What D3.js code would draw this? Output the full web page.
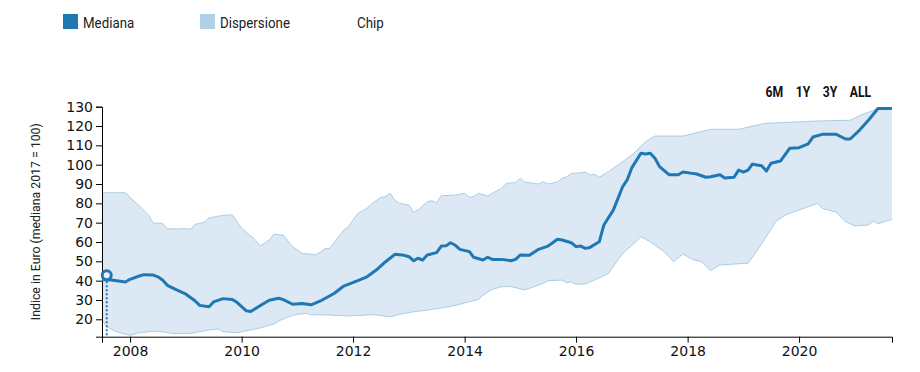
<!DOCTYPE html>
<html>
<head>
<meta charset="utf-8">
<script src="https://cdn.jsdelivr.net/npm/d3@7"></script>
<style>
	body { margin: 0; background: #fff; }
</style>
</head>
<body>
<svg id="chart" width="920" height="372"></svg>
<script>

var medianSeries = [
	["2007-07", 40.5], ["2007-09", 40.3], ["2007-12", 39.3], ["2008-01", 40.7], ["2008-03", 42.4], ["2008-04", 43.1],
	["2008-06", 42.9], ["2008-07", 42], ["2008-08", 40.3], ["2008-09", 37.6], ["2008-11", 35.2], ["2009-01", 33],
	["2009-03", 29.6], ["2009-04", 27.2], ["2009-06", 26.5], ["2009-07", 29], ["2009-09", 30.7], ["2009-11", 30.3],
	["2009-12", 28.8], ["2010-02", 24.4], ["2010-03", 24], ["2010-05", 27], ["2010-07", 29.9], ["2010-09", 30.9],
	["2010-10", 30.2], ["2010-12", 27.8], ["2011-02", 28.2], ["2011-04", 27.5], ["2011-06", 29.5], ["2011-09", 33.5],
	["2011-11", 37.2], ["2012-02", 40], ["2012-04", 42], ["2012-06", 45.5], ["2012-08", 49.8], ["2012-10", 53.6],
	["2012-12", 53.1], ["2013-01", 52.4], ["2013-02", 50.3], ["2013-03", 51.6], ["2013-04", 50.7], ["2013-05", 53.3],
	["2013-07", 54.5], ["2013-08", 57.9], ["2013-09", 58.1], ["2013-10", 59.6], ["2013-11", 58.3], ["2013-12", 56.2],
	["2014-02", 55], ["2014-03", 52.1], ["2014-05", 50.7], ["2014-06", 52.1], ["2014-07", 51], ["2014-09", 51],
	["2014-11", 50.3], ["2014-12", 51], ["2015-01", 53.3], ["2015-03", 53.1], ["2015-05", 56.2], ["2015-07", 57.9],
	["2015-08", 59.6], ["2015-09", 61.4], ["2015-10", 61], ["2015-12", 59.6], ["2016-01", 57.6], ["2016-02", 57.9],
	["2016-03", 56.7], ["2016-04", 57.2], ["2016-06", 60.1], ["2016-07", 68.8], ["2016-09", 76.5], ["2016-11", 88.6],
	["2016-12", 92.1], ["2017-01", 98.5], ["2017-03", 105.9], ["2017-04", 105.5], ["2017-05", 105.9], ["2017-06", 103.3],
	["2017-07", 99], ["2017-09", 94.8], ["2017-11", 94.8], ["2017-12", 96.2], ["2018-02", 95.5], ["2018-03", 95.2],
	["2018-05", 93.5], ["2018-06", 93.8], ["2018-08", 94.8], ["2018-09", 93.1], ["2018-11", 93.5], ["2018-12", 97.2],
	["2019-01", 96.2], ["2019-02", 97.2], ["2019-03", 100.3], ["2019-04", 99.8], ["2019-05", 99.5], ["2019-06", 96.7],
	["2019-07", 100.7], ["2019-09", 101.9], ["2019-11", 108.5], ["2020-01", 108.8], ["2020-03", 110.8], ["2020-04", 114.3],
	["2020-06", 115.7], ["2020-09", 115.7], ["2020-11", 113.3], ["2020-12", 113.3], ["2021-02", 117.9], ["2021-04", 123.1],
	["2021-06", 129.1], ["2021-09", 129.1]
];

var upperSeries = [
	["2007-07", 85.5], ["2007-12", 85.5], ["2008-05", 74], ["2008-06", 69.7], ["2008-08", 69.7], ["2008-09", 66.9],
	["2008-11", 66.7], ["2009-01", 66.9], ["2009-02", 66.6], ["2009-03", 69.1], ["2009-05", 70.2], ["2009-06", 72.4],
	["2009-08", 73.4], ["2009-10", 74], ["2009-11", 74], ["2009-12", 70.5], ["2010-01", 67.1], ["2010-04", 61],
	["2010-05", 57.9], ["2010-07", 61], ["2010-08", 64.1], ["2010-10", 63.5], ["2010-12", 57.6], ["2011-02", 54.1],
	["2011-05", 53.4], ["2011-06", 54.8], ["2011-07", 56.6], ["2011-08", 56.6], ["2011-11", 66.2], ["2011-12", 67.9],
	["2012-02", 74.8], ["2012-04", 77.4], ["2012-05", 79.7], ["2012-07", 83.1], ["2012-08", 83.5], ["2012-09", 85.2],
	["2012-10", 81.4], ["2012-11", 80], ["2013-01", 79.1], ["2013-02", 75.4], ["2013-03", 76.5], ["2013-05", 80.8],
	["2013-06", 81.4], ["2013-07", 80.3], ["2013-08", 83.9], ["2013-11", 84.3], ["2014-01", 85.2], ["2014-02", 83.1],
	["2014-03", 83.5], ["2014-04", 85.2], ["2014-06", 83.8], ["2014-07", 85.2], ["2014-09", 87.8], ["2014-10", 90.4],
	["2014-12", 90.7], ["2015-01", 92.9], ["2015-02", 90.9], ["2015-03", 90.7], ["2015-05", 90], ["2015-06", 91.2],
	["2015-07", 90], ["2015-09", 91], ["2015-10", 92.9], ["2015-11", 93.8], ["2015-12", 95.5], ["2016-02", 95.8],
	["2016-03", 96.2], ["2016-04", 94.6], ["2016-05", 95], ["2016-06", 93.5], ["2016-08", 96.4], ["2016-10", 99.8],
	["2017-01", 105], ["2017-04", 111.9], ["2017-06", 114.8], ["2017-12", 114.8], ["2018-06", 118.3], ["2018-12", 118.3],
	["2019-05", 121], ["2019-06", 121.4], ["2020-05", 122.6], ["2020-12", 123], ["2021-02", 125.4], ["2021-06", 129.1],
	["2021-09", 129.1]
];

var lowerSeries = [
	["2007-07", 19.6], ["2007-08", 16.2], ["2007-10", 13.6], ["2008-01", 11.7], ["2008-03", 13.1], ["2008-06", 13.8],
	["2008-08", 13.6], ["2008-10", 12.7], ["2009-02", 12.7], ["2009-04", 13.6], ["2009-06", 14.5], ["2009-08", 15],
	["2009-09", 13.6], ["2009-12", 13.1], ["2010-03", 14.5], ["2010-05", 15.5], ["2010-08", 17.6], ["2010-09", 19.1],
	["2010-11", 21.3], ["2011-01", 22.6], ["2011-03", 23.1], ["2011-04", 22.4], ["2011-08", 22.2], ["2011-12", 21.7],
	["2012-05", 22.4], ["2012-06", 22.2], ["2012-09", 21.3], ["2012-11", 22.6], ["2013-02", 23.9], ["2013-05", 24.8],
	["2013-08", 25.8], ["2013-11", 27.2], ["2014-02", 29.1], ["2014-04", 30.3], ["2014-05", 32.4], ["2014-07", 35.5],
	["2014-09", 36.9], ["2014-11", 36.9], ["2015-02", 35.2], ["2015-04", 36.9], ["2015-06", 38.6], ["2015-07", 40],
	["2015-10", 40.3], ["2015-11", 38.9], ["2015-12", 39.4], ["2016-01", 38.1], ["2016-03", 38.3], ["2016-05", 40.3],
	["2016-08", 43.8], ["2016-10", 50.7], ["2016-11", 54.1], ["2017-01", 58.2], ["2017-03", 62.7], ["2017-05", 60.1],
	["2017-08", 55], ["2017-10", 49.8], ["2017-12", 53.8], ["2018-02", 51], ["2018-04", 49.8], ["2018-06", 45.1],
	["2018-08", 48.1], ["2018-11", 48.6], ["2019-02", 49], ["2019-03", 52], ["2019-05", 59], ["2019-08", 70.5],
	["2019-10", 73.9], ["2019-12", 75.7], ["2020-02", 77.4], ["2020-05", 80], ["2020-06", 77.4], ["2020-09", 75.4],
	["2020-11", 70.5], ["2021-01", 68.3], ["2021-04", 68.8], ["2021-05", 70.9], ["2021-06", 69.5], ["2021-09", 71.7]
];

var chipPoint = ["2007-08", 42.8];

var yDomain = [11, 130];
var yTicks = [20, 30, 40, 50, 60, 70, 80, 90, 100, 110, 120, 130];
var legendLabels = ["Mediana", "Dispersione", "Chip"];
var rangeButtons = ["6M", "1Y", "3Y", "ALL"];
var yLabel = "Indice in Euro (mediana 2017 = 100)";

(function() {

	var svg = d3.select('#chart');
	var margin = {top: 106.7, right: 28, bottom: 35.3, left: 102};
	var width = 920 - margin.left - margin.right;
	var height = 372 - margin.top - margin.bottom;

	var parseMonth = d3.timeParse('%Y-%m');
	var toPoint = function(d) { return {date: parseMonth(d[0]), value: d[1]}; };

	var median = medianSeries.map(toPoint);
	var upper = upperSeries.map(toPoint);
	var lower = lowerSeries.map(toPoint);
	var chip = toPoint(chipPoint);

	var x = d3.scaleTime()
		.domain(d3.extent(median, function(d) { return d.date; }))
		.range([0, width]);

	var y = d3.scaleLinear()
		.domain(yDomain)
		.range([height, 0]);

	var line = d3.line()
		.x(function(d) { return x(d.date); })
		.y(function(d) { return y(d.value); });

	var g = svg.append('g')
		.attr('transform', 'translate(' + margin.left + ',' + margin.top + ')');

	// dispersion band
	g.append('path')
		.attr('class', 'band')
		.attr('d', line(upper.concat(lower.slice().reverse())) + 'Z')
		.attr('fill', '#dce9f4')
		.attr('stroke', 'none');

	g.append('path')
		.attr('d', line(upper))
		.attr('fill', 'none')
		.attr('stroke', '#aacde5')
		.attr('stroke-width', 1);

	g.append('path')
		.attr('d', line(lower))
		.attr('fill', 'none')
		.attr('stroke', '#aacde5')
		.attr('stroke-width', 1);

	// axes
	var xAxis = g.append('g')
		.attr('class', 'x axis')
		.attr('transform', 'translate(0,' + height + ')')
		.call(d3.axisBottom(x)
			.ticks(d3.timeYear.every(2))
			.tickFormat(d3.timeFormat('%Y')));

	var yAxis = g.append('g')
		.attr('class', 'y axis')
		.call(d3.axisLeft(y)
			.tickValues(yTicks));

	svg.selectAll('.axis text')
		.attr('font-family', 'DejaVu Sans, sans-serif')
		.attr('font-size', '14px')
		.attr('fill', '#111');

	svg.selectAll('.axis path, .axis line')
		.attr('stroke', '#000');

	// median line
	g.append('path')
		.attr('d', line(median))
		.attr('fill', 'none')
		.attr('stroke', '#1f77b4')
		.attr('stroke-width', 3)
		.attr('stroke-linejoin', 'round');

	// chip marker
	g.append('line')
		.attr('x1', x(chip.date))
		.attr('x2', x(chip.date))
		.attr('y1', y(chip.value) + 6)
		.attr('y2', height)
		.attr('stroke', '#1f77b4')
		.attr('stroke-width', 2)
		.attr('stroke-dasharray', '2,2');

	g.append('circle')
		.attr('cx', x(chip.date))
		.attr('cy', y(chip.value))
		.attr('r', 4.5)
		.attr('fill', '#eef4fa')
		.attr('stroke', '#1f77b4')
		.attr('stroke-width', 3);

	// y label
	svg.append('text')
		.attr('transform', 'translate(35.5,' + (margin.top + y((yDomain[0] + yDomain[1]) / 2)) + ') rotate(-90)')
		.attr('text-anchor', 'middle')
		.attr('dy', '0.35em')
		.attr('font-family', 'Roboto, sans-serif')
		.attr('font-size', '13px')
		.attr('fill', '#222')
		.attr('textLength', 197)
		.attr('lengthAdjust', 'spacingAndGlyphs')
		.text(yLabel);

	// legend
	var legendColors = ['#1f77b4', '#b0d0e6', 'none'];
	var legend = svg.append('g')
		.attr('class', 'legend')
		.selectAll('g')
		.data(legendLabels)
		.enter()
		.append('g')
		.attr('transform', function(d, i) { return 'translate(' + (63 + i * 137) + ',14)'; });

	legend.append('rect')
		.attr('width', 15)
		.attr('height', 15)
		.attr('fill', function(d, i) { return legendColors[i]; });

	legend.append('text')
		.attr('x', 20)
		.attr('y', 13.5)
		.attr('font-family', 'Roboto, sans-serif')
		.attr('font-size', '14px')
		.attr('fill', '#222')
		.text(function(d) { return d; })
		.each(function() {
			var w = this.getComputedTextLength();
			d3.select(this)
				.attr('textLength', w * 0.95)
				.attr('lengthAdjust', 'spacingAndGlyphs');
		});

	// range buttons
	var bx = 765.5;
	var buttons = svg.append('g')
		.attr('class', 'buttons');

	rangeButtons.forEach(function(label) {
		var t = buttons.append('text')
			.attr('x', bx)
			.attr('y', 96.7)
			.attr('font-family', 'Roboto, sans-serif')
			.attr('font-size', '14px')
			.attr('font-weight', 'bold')
			.attr('fill', '#111')
			.text(label);
		var w = t.node().getComputedTextLength() * 0.87;
		t.attr('textLength', w)
			.attr('lengthAdjust', 'spacingAndGlyphs');
		bx += w + 12.5;
	});

})();
</script>
</body>
</html>
